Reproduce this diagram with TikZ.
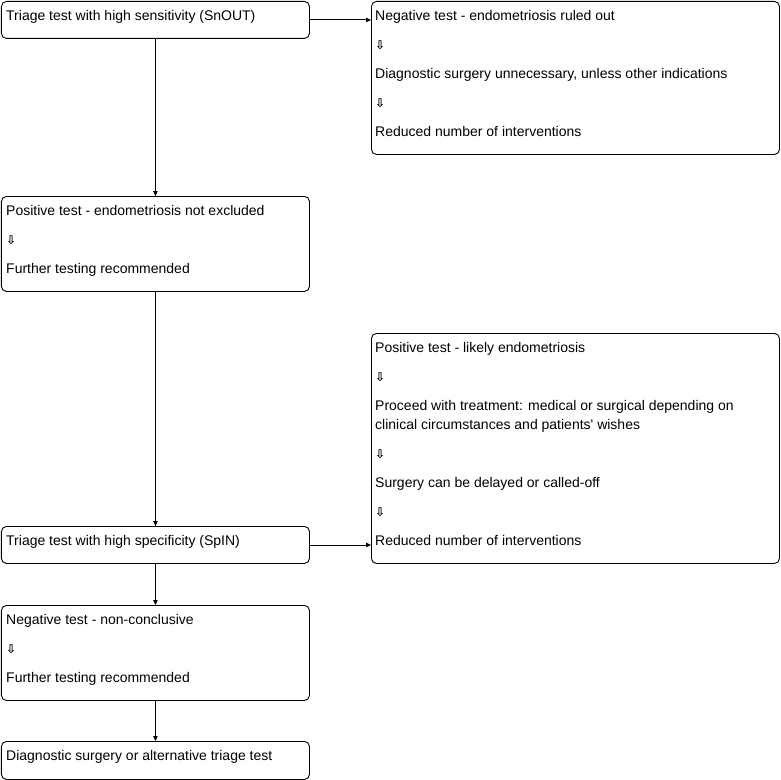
\documentclass[tikz,border=0pt]{standalone}
\usepackage{fontspec}
\setmainfont{Liberation Sans}
\newfontfamily\arrowfont{DejaVu Sans Bold}
\usetikzlibrary{arrows.meta}
\newcommand\arr{{\arrowfont\fontsize{12bp}{19bp}\selectfont ⇩}}
\begin{document}
\begin{tikzpicture}[x=1bp,y=-1bp,
  box/.style={draw, line width=0.9bp, rounded corners=5bp, anchor=north west, inner sep=0},
  narrow/.style={box, minimum width=308bp},
  wide/.style={box, minimum width=408bp},
  txt/.style={anchor=north west, inner sep=0, align=left, font=\fontsize{14bp}{19bp}\selectfont},
  conn/.style={line width=0.9bp, -{Triangle[length=5bp,width=4.5bp]}}]
\useasboundingbox (0,0) rectangle (781,780);
\node[narrow, minimum height=37bp] (A) at (1,1) {};
\node[wide, minimum height=153bp] (B) at (371,1) {};
\node[narrow, minimum height=95bp] (C) at (1,196) {};
\node[wide, minimum height=230bp] (D) at (371,333) {};
\node[narrow, minimum height=37bp] (E) at (1,526) {};
\node[narrow, minimum height=95bp] (F) at (1,605) {};
\node[narrow, minimum height=38bp] (G) at (1,741) {};
\node[txt] (At) at ([shift={(5bp,-6bp)}]A.north west) {\strut Triage test with high sensitivity (SnOUT)};
\node[txt] (Bt) at ([shift={(4bp,-6bp)}]B.north west) {\strut Negative test - endometriosis ruled out\\[10bp] \arr\\[10bp] Diagnostic surgery unnecessary, unless other indications\\[10bp] \arr\\[10bp] Reduced number of interventions};
\node[txt] (Ct) at ([shift={(5bp,-6bp)}]C.north west) {\strut Positive test - endometriosis not excluded\\[10bp] \arr\\[10bp] Further testing recommended};
\node[txt] (Dt) at ([shift={(4bp,-6bp)}]D.north west) {\strut Positive test - likely endometriosis\\[10bp] \arr\\[10bp] Proceed with treatment: medical or surgical depending on\\ clinical circumstances and patients\textquotesingle\ wishes\\[10bp] \arr\\[10bp] Surgery can be delayed or called-off\\[10bp] \arr\\[10bp] Reduced number of interventions};
\node[txt] (Et) at ([shift={(5bp,-6bp)}]E.north west) {\strut Triage test with high specificity (SpIN)};
\node[txt] (Ft) at ([shift={(5bp,-6bp)}]F.north west) {\strut Negative test - non-conclusive\\[10bp] \arr\\[10bp] Further testing recommended};
\node[txt] (Gt) at ([shift={(5bp,-6bp)}]G.north west) {\strut Diagnostic surgery or alternative triage test};
\draw[conn] (A.east) -- (A.east -| B.west);
\draw[conn] (A.south) -- (C.north);
\draw[conn] (C.south) -- (E.north);
\draw[conn] (E.east) -- (E.east -| D.west);
\draw[conn] (E.south) -- (F.north);
\draw[conn] (F.south) -- (G.north);
\end{tikzpicture}
\end{document}
